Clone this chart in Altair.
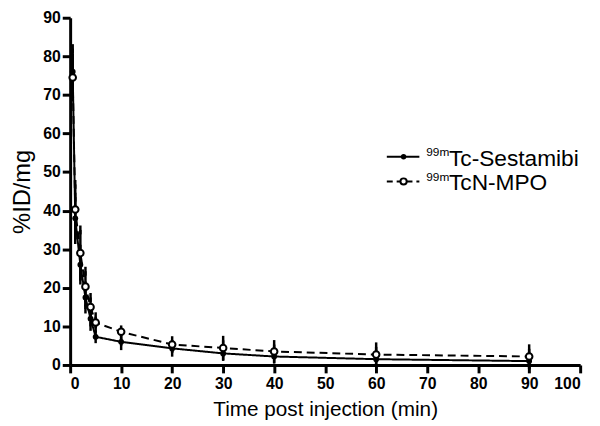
import altair as alt
import pandas as pd

times = [0.5, 1, 2, 3, 4, 5, 10, 20, 30, 40, 60, 90]
sestamibi = [76.0, 38.0, 26.0, 17.5, 12.0, 7.3, 6.0, 4.3, 3.0, 2.2, 1.5, 1.0]
sestamibi_err = [6.0, 5.5, 4.0, 3.0, 2.0, 0.5, 1.0, 1.0, 0.8, 0.7, 0.8, 1.0]
mpo = [74.5, 40.3, 29.0, 20.3, 15.0, 11.0, 8.6, 5.3, 4.4, 3.5, 2.7, 2.2]
mpo_err = [5.0, 6.5, 6.0, 4.0, 2.5, 1.5, 0.5, 1.0, 2.0, 1.8, 2.0, 2.0]
series_names = ["Tc-Sestamibi", "TcN-MPO"]
superscript = "99m"
x_ticks = list(range(0, 101, 10))
y_ticks = list(range(0, 91, 10))

rows = []
for name, vals, errs in [(series_names[0], sestamibi, sestamibi_err),
                         (series_names[1], mpo, mpo_err)]:
    for t, v, e in zip(times, vals, errs):
        rows.append({"time": t, "value": v, "lo": v - e, "hi": v + e, "series": name})
df = pd.DataFrame(rows)

FONT = "Liberation Sans"

xs = alt.Scale(domain=[0, 100], nice=False)
ys = alt.Scale(domain=[0, 90], nice=False)
common = dict(grid=False, labelFont=FONT, labelFontWeight="bold", labelFontSize=16,
              labelColor="black", titleFont=FONT, titleFontWeight="normal",
              titleColor="black", domainColor="black", domainWidth=3,
              tickColor="black", tickWidth=3, tickSize=8, labelOverlap=False)
x_axis = alt.Axis(values=x_ticks, title="Time post injection (min)", labelPadding=3,
                  titleFontSize=21, titlePadding=7, **common)
y_axis = alt.Axis(values=y_ticks, title="%ID/mg", labelPadding=2,
                  titleFontSize=24, titlePadding=8, **common)


def X(field):
    return alt.X(f"{field}:Q", scale=xs, axis=x_axis)


def Y(field):
    return alt.Y(f"{field}:Q", scale=ys, axis=y_axis)


dash = alt.StrokeDash("series:N", scale=alt.Scale(domain=series_names, range=[[1, 0], [8, 5]]),
                      legend=None)

lines = alt.Chart(df).mark_line(color="black", strokeWidth=2).encode(
    x=X("time"), y=Y("value"), strokeDash=dash, detail="series:N")

bars = alt.Chart(df).mark_rule(color="black", strokeWidth=2.5).encode(
    x=X("time"), y=Y("lo"), y2="hi:Q")
cap_hi = alt.Chart(df).mark_tick(color="black", thickness=2.5, size=9, opacity=1).encode(
    x=X("time"), y=Y("hi"))
cap_lo = alt.Chart(df).mark_tick(color="black", thickness=2.5, size=9, opacity=1).encode(
    x=X("time"), y=Y("lo"))

pts_s = alt.Chart(df[df.series == series_names[0]]).mark_point(
    shape="circle", filled=True, color="black", size=35, opacity=1).encode(
    x=X("time"), y=Y("value"))
pts_m = alt.Chart(df[df.series == series_names[1]]).mark_point(
    shape="circle", fill="white", stroke="black", strokeWidth=2, size=45, opacity=1,
    fillOpacity=1).encode(x=X("time"), y=Y("value"))

# legend
legend_layers = []
for i, name in enumerate(series_names):
    yy = 141 + i * 25
    ld = pd.DataFrame({"series": [name], "sup": [superscript]})
    base = alt.Chart(ld)
    rule = base.mark_rule(color="black", strokeWidth=2,
                          strokeDash=[1, 0] if i == 0 else [6, 4]).encode(
        x=alt.value(321), x2=alt.value(354), y=alt.value(yy))
    if i == 0:
        pt = base.mark_point(shape="circle", filled=True, color="black", size=30,
                             opacity=1).encode(x=alt.value(338), y=alt.value(yy))
    else:
        pt = base.mark_point(shape="circle", fill="white", stroke="black", strokeWidth=2,
                             size=40, opacity=1, fillOpacity=1).encode(
            x=alt.value(338), y=alt.value(yy))
    sup = base.mark_text(font=FONT, fontSize=12, align="left", baseline="alphabetic",
                         color="black").encode(text="sup:N", x=alt.value(361),
                                               y=alt.value(yy - 1))
    main = base.mark_text(font=FONT, fontSize=23, align="left", baseline="alphabetic",
                          color="black").encode(text="series:N", x=alt.value(384),
                                                y=alt.value(yy + 9))
    legend_layers += [rule, pt, sup, main]

chart = alt.layer(lines, bars, cap_hi, cap_lo, pts_s, pts_m, *legend_layers).properties(
    width=517, height=352,
    autosize=alt.AutoSizeParams(type="none"),
    padding={"left": 63, "top": 7, "right": 12, "bottom": 59},
    background="white",
).configure_view(stroke=None)

chart.save("out.html", embed_options={"renderer": "svg", "actions": False})
